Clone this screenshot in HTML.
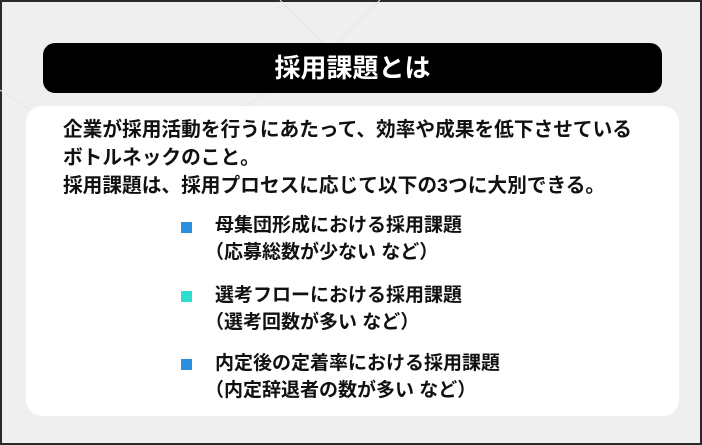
<!DOCTYPE html>
<html><head><meta charset="utf-8"><style>
*{margin:0;padding:0;box-sizing:border-box}
body{width:702px;height:445px;overflow:hidden;background:#222}
#f{position:absolute;left:0;top:0;width:702px;height:445px;background:#efefef;border:2px solid #2a2a2a;font-family:"Liberation Sans","Noto Sans CJK JP",sans-serif;color:#111}
#t{position:absolute;left:41px;top:41px;width:619px;height:50px;background:#000;border-radius:12px;color:#fff;font-size:26px;font-weight:bold;text-align:center;line-height:50px}
#w{position:absolute;left:24px;top:104px;width:653px;height:310px;background:#fff;border-radius:16px}
.p{position:absolute;left:61px;font-size:19.7px;font-weight:bold;white-space:nowrap;line-height:28px}
.l{position:absolute;left:213px;font-size:19px;font-weight:bold;white-space:nowrap;line-height:27px}
.b{left:203px}
.s{position:absolute;left:179px;width:11px;height:11px}
</style></head><body><div id="f">
<svg width="702" height="445" style="position:absolute;left:-2px;top:-2px"><g stroke="#e6e6e6" stroke-width="1" fill="none"><line x1="280" y1="0" x2="330" y2="50"/><line x1="330" y1="50" x2="380" y2="0"/><line x1="0" y1="90" x2="30" y2="110"/><line x1="240" y1="110" x2="270" y2="90"/></g></svg>
<div id="t">採用課題とは</div>
<div id="w"></div>
<div class="p" style="top:114px">企業が採用活動を行うにあたって、効率や成果を低下させている</div>
<div class="p" style="top:142px">ボトルネックのこと。</div>
<div class="p" style="top:170px">採用課題は、採用プロセスに応じて以下の3つに大別できる。</div>
<div class="s" style="top:220px;background:#2d8fe0"></div>
<div class="l" style="top:210px">母集団形成における採用課題</div>
<div class="l b" style="top:237px">（応募総数が少ない など）</div>
<div class="s" style="top:289px;background:#2fdcd0"></div>
<div class="l" style="top:280px">選考フローにおける採用課題</div>
<div class="l b" style="top:307px">（選考回数が多い など）</div>
<div class="s" style="top:357px;background:#2d8fe0"></div>
<div class="l" style="top:348px">内定後の定着率における採用課題</div>
<div class="l b" style="top:375px">（内定辞退者の数が多い など）</div>
</div></body></html>
